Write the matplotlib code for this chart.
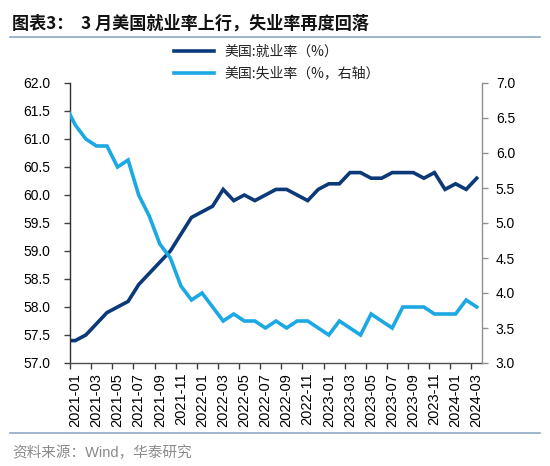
import numpy as np
import matplotlib
matplotlib.use("Agg")
import matplotlib.pyplot as plt
from matplotlib.lines import Line2D
from matplotlib.ticker import FormatStrFormatter

plt.rcParams['font.family'] = ['Liberation Sans', 'Noto Sans CJK SC', 'DejaVu Sans']

# months from 2020-12 to 2024-03
months = ["2020-12"] + [f"{y}-{m:02d}" for y in range(2021, 2025) for m in range(1, 13)][:39]
employment = [57.4,
              57.4, 57.5, 57.7, 57.9, 58.0, 58.1, 58.4, 58.6, 58.8, 59.0, 59.3, 59.6,
              59.7, 59.8, 60.1, 59.9, 60.0, 59.9, 60.0, 60.1, 60.1, 60.0, 59.9, 60.1,
              60.2, 60.2, 60.4, 60.4, 60.3, 60.3, 60.4, 60.4, 60.4, 60.3, 60.4, 60.1,
              60.2, 60.1, 60.3]
unemployment = [6.7,
                6.4, 6.2, 6.1, 6.1, 5.8, 5.9, 5.4, 5.1, 4.7, 4.5, 4.1, 3.9,
                4.0, 3.8, 3.6, 3.7, 3.6, 3.6, 3.5, 3.6, 3.5, 3.6, 3.6, 3.5,
                3.4, 3.6, 3.5, 3.4, 3.7, 3.6, 3.5, 3.8, 3.8, 3.8, 3.7, 3.7,
                3.7, 3.9, 3.8]
tick_labels = months[1::2]
left_ticks = [57.0, 57.5, 58.0, 58.5, 59.0, 59.5, 60.0, 60.5, 61.0, 61.5, 62.0]
right_ticks = [3.0, 3.5, 4.0, 4.5, 5.0, 5.5, 6.0, 6.5, 7.0]
label_emp = "美国:就业率（%）"
label_unemp = "美国:失业率（%，右轴）"
title = "图表3：  3 月美国就业率上行，失业率再度回落"
source = "资料来源：Wind，华泰研究"

W, H = 550, 466
fig = plt.figure(figsize=(W / 100, H / 100), dpi=100)
ax = fig.add_axes([70 / W, 1 - 363 / H, 412 / W, 280 / H])
ax2 = ax.twinx()

x = np.arange(len(months)) - 1  # 2021-01 -> 0
navy = '#0C3A78'
sky = '#1BA8E3'
l1, = ax.plot(x, employment, color=navy, lw=2.6, solid_joinstyle='miter')
l2, = ax2.plot(x, unemployment, color=sky, lw=2.6, solid_joinstyle='miter')

ax.set_xlim(-0.5, 38.5)
ax.set_ylim(57, 62)
ax2.set_ylim(3, 7)
ax.set_yticks(left_ticks)
ax2.set_yticks(right_ticks)
ax.yaxis.set_major_formatter(FormatStrFormatter('%.1f'))
ax2.yaxis.set_major_formatter(FormatStrFormatter('%.1f'))

pos = [i for i, m in enumerate(months) if m in tick_labels]
ax.set_xticks([x[p] for p in pos])
ax.set_xticklabels(tick_labels, rotation=90, fontsize=10.5)
ax.set_xticks([x[p] - 0.5 for p in pos], minor=True)
ax.tick_params(axis='x', which='major', length=0, pad=7)
ax.tick_params(axis='x', which='minor', length=4, width=1, color='#404040')
ax.tick_params(axis='y', length=4, width=1, color='#404040', labelsize=10, pad=10)
ax2.tick_params(axis='y', length=4, width=1, color='#909090', labelsize=10, pad=6)

for s in ['top', 'right']:
    ax.spines[s].set_visible(False)
for s in ['top', 'left', 'bottom']:
    ax2.spines[s].set_visible(False)
ax.spines['left'].set_color('#303030')
ax.spines['bottom'].set_color('#505050')
ax2.spines['right'].set_color('#909090')
for sp in [ax.spines['left'], ax.spines['bottom'], ax2.spines['right']]:
    sp.set_linewidth(1.0)

leg = fig.legend([l1, l2], [label_emp, label_unemp], loc='upper left',
                 bbox_to_anchor=(174 / W, 1 - 45 / H), frameon=False,
                 prop={'family': ['Noto Sans CJK SC'], 'size': 10},
                 handlelength=2.9, handletextpad=0.75, labelspacing=0.55,
                 borderpad=0, borderaxespad=0)
for t in leg.get_texts():
    t.set_color('#222222')

fig.text(12 / W, 1 - 24 / H, title, fontsize=12.3, fontweight='bold',
         va='center', ha='left', color='#111111', family=['Noto Sans CJK SC'])
fig.add_artist(Line2D([10 / W, 540 / W], [1 - 36.5 / H, 1 - 36.5 / H],
                      color='#8DA9C4', lw=1.2, transform=fig.transFigure))
fig.add_artist(Line2D([10 / W, 540 / W], [1 - 433 / H, 1 - 433 / H],
                      color='#8DA9C4', lw=1.2, transform=fig.transFigure))
fig.text(12 / W, 1 - 453 / H, source, fontsize=10.5, va='center', ha='left',
         color='#8a8a8a')

fig.savefig('out.png', dpi=100)
